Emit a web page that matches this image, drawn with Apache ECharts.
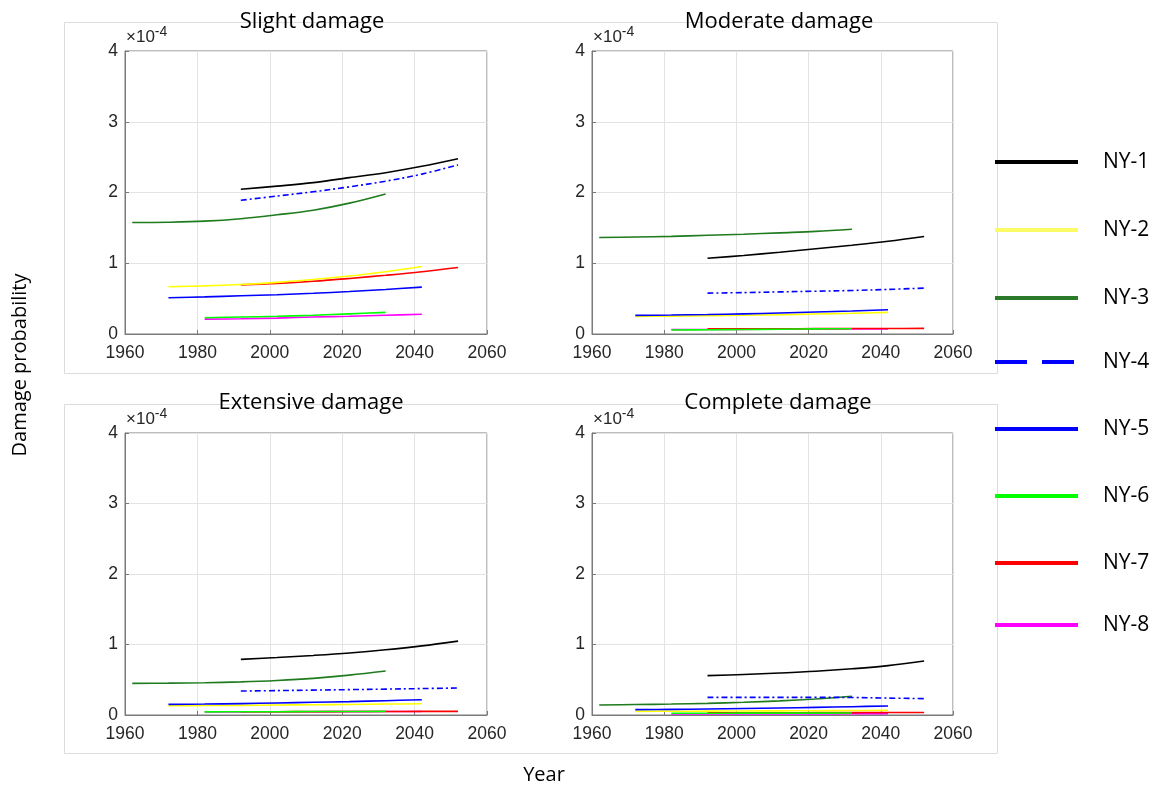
<!DOCTYPE html>
<html>
<head>
<meta charset="utf-8">
<script src="https://cdn.jsdelivr.net/npm/echarts@6/dist/echarts.min.js"></script>
<style>
html,body{margin:0;padding:0;background:#fff;}
#main{width:1159px;height:789px;}
</style>
</head>
<body>
<div id="main"></div>
<script>
// ---- data (damage probability, in units of 1e-4) ----
const panelTitles = ['Slight damage', 'Moderate damage', 'Extensive damage', 'Complete damage'];
const seriesNames = ['NY-1', 'NY-2', 'NY-3', 'NY-4', 'NY-5', 'NY-6', 'NY-7', 'NY-8'];
const xTicks = [1960, 1980, 2000, 2020, 2040, 2060];
const yTicks = [0, 1, 2, 3, 4];

const yearsNY3 = [1962, 1972, 1982, 1992, 2002, 2012, 2022, 2032];
const yearsNY2 = [1972, 1982, 1992, 2002, 2012, 2022, 2032, 2042];
const yearsNY5 = [1972, 1982, 1992, 2002, 2012, 2022, 2032, 2042];
const yearsNY6 = [1982, 1992, 2002, 2012, 2022, 2032];
const yearsNY8 = [1982, 1992, 2002, 2012, 2022, 2032, 2042];
const yearsNY1 = [1992, 2002, 2012, 2022, 2032, 2042, 2052];
const yearsNY4 = [1992, 2002, 2012, 2022, 2032, 2042, 2052];
const yearsNY7 = [1992, 2002, 2012, 2022, 2032, 2042, 2052];

// Slight damage
const slightNY1 = [2.045, 2.09, 2.14, 2.21, 2.28, 2.37, 2.477];
const slightNY2 = [0.667, 0.68, 0.70, 0.73, 0.77, 0.82, 0.88, 0.954];
const slightNY3 = [1.575, 1.58, 1.595, 1.63, 1.685, 1.75, 1.85, 1.98];
const slightNY4 = [1.89, 1.95, 2.01, 2.08, 2.16, 2.26, 2.39];
const slightNY5 = [0.512, 0.525, 0.54, 0.555, 0.575, 0.60, 0.63, 0.663];
const slightNY6 = [0.23, 0.24, 0.25, 0.265, 0.285, 0.305];
const slightNY7 = [0.695, 0.715, 0.745, 0.785, 0.83, 0.88, 0.94];
const slightNY8 = [0.21, 0.215, 0.225, 0.24, 0.25, 0.265, 0.28];

// Moderate damage
const moderateNY1 = [1.07, 1.11, 1.155, 1.205, 1.255, 1.31, 1.377];
const moderateNY2 = [0.249, 0.252, 0.258, 0.265, 0.273, 0.283, 0.293, 0.305];
const moderateNY3 = [1.363, 1.37, 1.38, 1.395, 1.41, 1.43, 1.45, 1.48];
const moderateNY4 = [0.578, 0.585, 0.595, 0.605, 0.615, 0.63, 0.649];
const moderateNY5 = [0.263, 0.268, 0.275, 0.285, 0.297, 0.31, 0.325, 0.343];
const moderateNY6 = [0.056, 0.06, 0.064, 0.068, 0.072, 0.075];
const moderateNY7 = [0.072, 0.073, 0.074, 0.076, 0.077, 0.078, 0.08];
const moderateNY8 = [0.062, 0.064, 0.066, 0.068, 0.07, 0.071, 0.072];

// Extensive damage
const extensiveNY1 = [0.789, 0.815, 0.845, 0.88, 0.925, 0.98, 1.048];
const extensiveNY2 = [0.132, 0.134, 0.137, 0.141, 0.145, 0.15, 0.155, 0.16];
const extensiveNY3 = [0.449, 0.452, 0.458, 0.47, 0.49, 0.52, 0.565, 0.623];
const extensiveNY4 = [0.34, 0.346, 0.353, 0.36, 0.367, 0.375, 0.383];
const extensiveNY5 = [0.151, 0.155, 0.162, 0.17, 0.18, 0.19, 0.203, 0.217];
const extensiveNY6 = [0.045, 0.046, 0.047, 0.049, 0.05, 0.052];
const extensiveNY7 = [0.046, 0.047, 0.048, 0.049, 0.05, 0.051, 0.052];
const extensiveNY8 = [0.044, 0.045, 0.046, 0.047, 0.048, 0.049, 0.05];

// Complete damage
const completeNY1 = [0.558, 0.575, 0.595, 0.62, 0.655, 0.70, 0.766];
const completeNY2 = [0.052, 0.053, 0.055, 0.057, 0.059, 0.061, 0.063, 0.066];
const completeNY3 = [0.142, 0.148, 0.155, 0.165, 0.18, 0.20, 0.228, 0.265];
const completeNY4 = [0.25, 0.25, 0.25, 0.25, 0.248, 0.24, 0.232];
const completeNY5 = [0.076, 0.08, 0.085, 0.092, 0.10, 0.108, 0.118, 0.128];
const completeNY6 = [0.024, 0.025, 0.026, 0.027, 0.027, 0.028];
const completeNY7 = [0.03, 0.031, 0.032, 0.033, 0.034, 0.035, 0.036];
const completeNY8 = [0.014, 0.014, 0.015, 0.015, 0.016, 0.017, 0.018];

// ---- build ----
const yearsBySeries = {'NY-1': yearsNY1, 'NY-2': yearsNY2, 'NY-3': yearsNY3, 'NY-4': yearsNY4,
  'NY-5': yearsNY5, 'NY-6': yearsNY6, 'NY-7': yearsNY7, 'NY-8': yearsNY8};
const panels = [
  {'NY-1': slightNY1, 'NY-2': slightNY2, 'NY-3': slightNY3, 'NY-4': slightNY4, 'NY-5': slightNY5, 'NY-6': slightNY6, 'NY-7': slightNY7, 'NY-8': slightNY8},
  {'NY-1': moderateNY1, 'NY-2': moderateNY2, 'NY-3': moderateNY3, 'NY-4': moderateNY4, 'NY-5': moderateNY5, 'NY-6': moderateNY6, 'NY-7': moderateNY7, 'NY-8': moderateNY8},
  {'NY-1': extensiveNY1, 'NY-2': extensiveNY2, 'NY-3': extensiveNY3, 'NY-4': extensiveNY4, 'NY-5': extensiveNY5, 'NY-6': extensiveNY6, 'NY-7': extensiveNY7, 'NY-8': extensiveNY8},
  {'NY-1': completeNY1, 'NY-2': completeNY2, 'NY-3': completeNY3, 'NY-4': completeNY4, 'NY-5': completeNY5, 'NY-6': completeNY6, 'NY-7': completeNY7, 'NY-8': completeNY8}
];

const colors = {'NY-1': '#000000', 'NY-2': '#ffff00', 'NY-3': '#1e7b1e', 'NY-4': '#0000ff',
  'NY-5': '#0000ff', 'NY-6': '#00ff00', 'NY-7': '#ff0000', 'NY-8': '#ff00ff'};
const drawOrder = ['NY-8', 'NY-7', 'NY-2', 'NY-5', 'NY-6', 'NY-3', 'NY-4', 'NY-1'];

const gridPos = [
  {left: 125, top: 51, width: 362, height: 283},
  {left: 592, top: 51, width: 361, height: 283},
  {left: 125, top: 433, width: 362, height: 282},
  {left: 592, top: 433, width: 361, height: 282}
];
const titlePos = [[312, 22], [779, 22], [311, 403], [778, 403]];

const axisColor = '#7a7a7a';
const tickFont = {color: '#262626', fontSize: 17.5, fontFamily: 'Liberation Sans, Arial, sans-serif'};

const grids = [], xAxes = [], yAxes = [], series = [], graphics = [];

// light frames around the panel rows
graphics.push({type: 'rect', shape: {x: 64.5, y: 22.5, width: 933, height: 351}, style: {fill: 'none', stroke: '#dcdcdc', lineWidth: 1}, silent: true, z: -1});
graphics.push({type: 'rect', shape: {x: 64.5, y: 404.5, width: 933, height: 349}, style: {fill: 'none', stroke: '#dcdcdc', lineWidth: 1}, silent: true, z: -1});

gridPos.forEach((g, i) => {
  grids.push(Object.assign({show: true, borderColor: axisColor, borderWidth: 1, backgroundColor: '#fff'}, g));
  xAxes.push({
    type: 'value', gridIndex: i, min: xTicks[0], max: xTicks[xTicks.length - 1], interval: 20,
    axisLine: {show: true, lineStyle: {color: axisColor}},
    axisTick: {show: true, inside: true, length: 4, lineStyle: {color: axisColor}},
    axisLabel: Object.assign({margin: 10, formatter: v => String(v)}, tickFont),
    splitLine: {show: true, lineStyle: {color: '#e3e3e3', width: 1}}
  });
  yAxes.push({
    type: 'value', gridIndex: i, min: yTicks[0], max: yTicks[yTicks.length - 1], interval: 1,
    axisLine: {show: true, lineStyle: {color: axisColor}},
    axisTick: {show: true, inside: true, length: 4, lineStyle: {color: axisColor}},
    axisLabel: Object.assign({margin: 7}, tickFont),
    splitLine: {show: true, lineStyle: {color: '#e3e3e3', width: 1}}
  });
  drawOrder.forEach((name, k) => {
    const yrs = yearsBySeries[name];
    const vals = panels[i][name];
    series.push({
      name: name, type: 'line', xAxisIndex: i, yAxisIndex: i,
      data: yrs.map((y, j) => [y, vals[j]]),
      smooth: 0.35, showSymbol: false, symbol: 'none', z: 2 + k * 0.01,
      lineStyle: {color: colors[name], width: 1.6, type: name === 'NY-4' ? [6, 3, 2, 3] : 'solid'},
      itemStyle: {color: colors[name]},
      animation: false
    });
  });
  // panel title
  graphics.push({type: 'text', x: titlePos[i][0], y: titlePos[i][1],
    style: {text: panelTitles[i], fill: '#000', font: '22px "Open Sans", sans-serif', textAlign: 'center', textVerticalAlign: 'middle'}});
  // exponent label
  graphics.push({type: 'text', x: g.left + 1, y: g.top - 2,
    style: {text: '{a|×10}{b|-4}', textVerticalAlign: 'bottom', rich: {
      a: {fontSize: 17, fontFamily: 'Liberation Sans, Arial, sans-serif', fill: '#262626', color: '#262626'},
      b: {fontSize: 14, fontFamily: 'Liberation Sans, Arial, sans-serif', fill: '#262626', color: '#262626', verticalAlign: 'top', padding: [0, 0, 10, 0]}
    }}});
});

// legend (drawn)
const legendY = [162, 230, 298, 362, 429, 496, 563, 625];
const legendColors = {'NY-1': '#000000', 'NY-2': '#fbfb66', 'NY-3': '#2a7a2a', 'NY-4': '#0000ff',
  'NY-5': '#0000ff', 'NY-6': '#00ff00', 'NY-7': '#ff0000', 'NY-8': '#ff00ff'};
seriesNames.forEach((name, i) => {
  graphics.push({type: 'line', shape: {x1: 995, y1: legendY[i], x2: 1078, y2: legendY[i]},
    style: {stroke: legendColors[name], lineWidth: 4, lineDash: name === 'NY-4' ? [32, 15] : null}});
  graphics.push({type: 'text', x: 1103, y: legendY[i],
    style: {text: name, fill: '#000', font: '21px "Open Sans", sans-serif', textAlign: 'left', textVerticalAlign: 'middle'}});
});

// axis titles
graphics.push({type: 'text', x: 20, y: 365, rotation: Math.PI / 2,
  style: {text: 'Damage probability', fill: '#000', font: '20px "Open Sans", sans-serif', textAlign: 'center', textVerticalAlign: 'middle'}});
graphics.push({type: 'text', x: 544, y: 775,
  style: {text: 'Year', fill: '#000', font: '20px "Open Sans", sans-serif', textAlign: 'center', textVerticalAlign: 'middle'}});

const chart = echarts.init(document.getElementById('main'), null, {renderer: 'canvas'});
chart.setOption({
  animation: false,
  backgroundColor: '#fff',
  grid: grids, xAxis: xAxes, yAxis: yAxes, series: series,
  graphic: graphics
});
</script>
</body>
</html>
